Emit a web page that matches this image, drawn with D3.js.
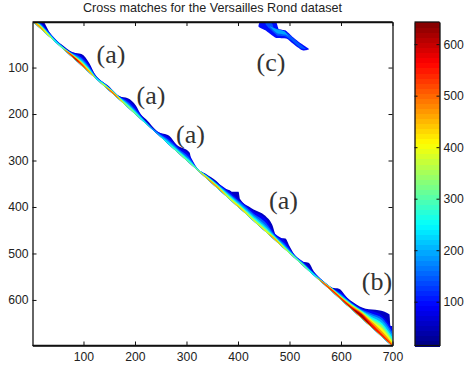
<!DOCTYPE html>
<html>
<head>
<meta charset="utf-8">
<script src="https://cdn.jsdelivr.net/npm/d3@7"></script>
<style>
    html, body { margin: 0; padding: 0; background: #fff; }
    text { font-family: "Liberation Sans", sans-serif; fill: #222; }
    .note { font-family: "Liberation Serif", serif; font-size: 26px; fill: #333; text-anchor: middle; }
    .tick line, .domain { stroke: #111; }
</style>
</head>
<body>
<div id="chart"></div>
<script>
const titleText = 'Cross matches for the Versailles Rond dataset';
const xTicks = [100, 200, 300, 400, 500, 600, 700];
const yTicks = [100, 200, 300, 400, 500, 600];
const barTicks = [100, 200, 300, 400, 500, 600];

// outer edge of the match band: how far above the diagonal it reaches, per column
const edgeCols = [1, 21, 31, 34, 57, 79, 96, 112, 121, 131, 147, 170, 186, 202, 211, 222, 244, 267, 280, 306, 309, 319, 338, 358, 372, 384, 388, 401, 404, 427, 453, 466, 476, 492, 500, 508, 521, 537, 547, 567, 583, 596, 612, 625, 648, 673, 694, 696, 700];
const edgeReach = [2, 20, 13, 10, 7, 12, 25, 20, 9, 6, 9, 8, 20, 20, 11, 10, 6, 20, 15, 23, 12, 4, 9, 14, 13, 20, 21, 34, 21, 24, 34, 29, 10, 24, 16, 8, 5, 17, 9, 6, 9, 20, 17, 19, 29, 51, 63, 40, 44];

// inner levels of the band, same idea, read at these columns
const coreCols = [1, 15, 30, 45, 60, 75, 85, 95, 110, 125, 140, 155, 170, 185, 200, 215, 240, 265, 285, 305, 320, 340, 360, 385, 405, 430, 455, 470, 490, 510, 530, 550, 567, 585, 600, 620, 640, 660, 680, 700];
const reach90 = [2, 13, 11, 7, 6, 9, 16, 21, 18, 6, 7, 8, 8, 16, 16, 8, 5, 15, 13, 18, 5, 8, 12, 17, 18, 21, 28, 15, 18, 7, 9, 7, 6, 9, 17, 16, 22, 36, 46, 38];
const reach150 = [2, 11, 9, 6, 5, 8, 13, 17, 14, 5, 6, 7, 7, 12, 11, 6, 4, 10, 10, 12, 4, 7, 10, 13, 15, 16, 20, 12, 12, 6, 7, 5, 6, 9, 13, 14, 20, 31, 41, 31];
const reach200 = [2, 9, 7, 5, 5, 7, 11, 14, 11, 4, 6, 7, 6, 9, 8, 5, 3, 7, 7, 8, 4, 7, 9, 10, 12, 12, 14, 10, 8, 5, 5, 4, 5, 8, 11, 13, 18, 27, 36, 25];
const reach260 = [2, 8, 6, 4, 4, 7, 9, 11, 9, 3, 5, 6, 6, 7, 6, 4, 0, 4, 5, 6, 4, 6, 8, 8, 9, 9, 10, 8, 6, 4, 4, 3, 5, 8, 9, 12, 17, 23, 30, 19];
const reach330 = [2, 7, 5, 0, 3, 6, 8, 9, 7, 0, 4, 6, 5, 5, 4, 0, 0, 0, 3, 3, 3, 5, 7, 6, 7, 6, 7, 7, 4, 3, 3, 0, 5, 7, 8, 11, 16, 19, 25, 14];
const reach400 = [2, 6, 4, 0, 0, 6, 7, 8, 6, 0, 3, 5, 4, 0, 0, 0, 0, 0, 0, 0, 0, 4, 5, 3, 5, 3, 4, 5, 3, 0, 0, 0, 4, 7, 7, 9, 14, 16, 19, 10];
const reach470 = [0, 5, 0, 0, 0, 5, 6, 7, 4, 0, 0, 4, 3, 0, 0, 0, 0, 0, 0, 0, 0, 3, 4, 0, 3, 0, 0, 4, 0, 0, 0, 0, 4, 6, 6, 8, 13, 13, 12, 6];
const reach550 = [0, 0, 0, 0, 0, 4, 5, 5, 0, 0, 0, 3, 0, 0, 0, 0, 0, 0, 0, 0, 0, 0, 0, 0, 0, 0, 0, 0, 0, 0, 0, 0, 3, 5, 5, 6, 11, 9, 6, 3];
const reach620 = [0, 0, 0, 0, 0, 0, 4, 0, 0, 0, 0, 0, 0, 0, 0, 0, 0, 0, 0, 0, 0, 0, 0, 0, 0, 0, 0, 0, 0, 0, 0, 0, 0, 0, 0, 4, 9, 3, 0, 0];
const levelValues = [90, 150, 200, 260, 330, 400, 470, 550, 620];
const levelReach = [reach90, reach150, reach200, reach260, reach330, reach400, reach470, reach550, reach620];
const levelFloor = [0, 0, 0, 0, 0.3, 0.6, 1, 1.5, 2];
const edgeValue = 55;

// the separate patch (c), outlines as [column, row]
const patchOuter = [[444, 1], [440, 12], [453, 20], [473, 36], [495, 38], [505, 47], [525, 63], [538, 60], [521, 47], [505, 33], [492, 20], [479, 17], [473, 1]];
const patchInner = [[453, 5], [460, 15], [476, 31], [492, 33], [502, 40], [521, 58], [532, 60], [518, 47], [499, 29], [486, 20], [470, 15], [466, 5]];
const patchCore = [[462, 12], [476, 26], [492, 29], [498, 33], [490, 22], [474, 17]];
const patchValues = [100, 145, 195];

const notes = [
    {label: '(a)', x: 111, y: 63},
    {label: '(a)', x: 151, y: 104},
    {label: '(a)', x: 190.5, y: 143},
    {label: '(c)', x: 271, y: 71},
    {label: '(a)', x: 283.5, y: 209},
    {label: '(b)', x: 377, y: 290}
];

const width = 465, height = 366;
const plot = {left: 32.5, top: 22, right: 392.5, bottom: 345.5};
const bar = {left: 414.5, right: 439.5};

const svg = d3.select('#chart').append('svg')
    .attr('width', width)
    .attr('height', height)
    .style('display', 'block');

// Scales
const xScale = d3.scaleLinear().domain([1, 700]).range([plot.left, plot.right]);
const yScale = d3.scaleLinear().domain([2, 698]).range([plot.top, plot.bottom]);
const barScale = d3.scaleLinear().domain([15, 643]).range([plot.bottom, plot.top]);

// matlab jet colormap
const jet = d3.scaleLinear()
    .domain([0, 0.125, 0.375, 0.625, 0.875, 1])
    .range(['#000080', '#0000ff', '#00ffff', '#ffff00', '#ff0000', '#800000'])
    .clamp(true);
const colorOf = v => jet((v - 15) / (643 - 15));

const defs = svg.append('defs');
defs.append('clipPath').attr('id', 'plot-clip')
    .append('rect')
    .attr('x', plot.left).attr('y', plot.top)
    .attr('width', plot.right - plot.left).attr('height', plot.bottom - plot.top);
// the reference image is a bit soft
defs.append('filter').attr('id', 'soft')
    .attr('x', 0).attr('y', 0).attr('width', 1).attr('height', 1)
    .append('feGaussianBlur').attr('stdDeviation', 0.4);

const visG = svg.append('g').attr('clip-path', 'url(#plot-clip)')
    .append('g').attr('filter', 'url(#soft)');

// band from the outside in
const bandArea = d3.area()
    .x(d => xScale(d.col))
    .y0(d => yScale(d.col - d.floor))
    .y1(d => yScale(d.col - Math.max(d.reach, d.floor)))
    .curve(d3.curveMonotoneX);

visG.append('path')
    .attr('d', bandArea(edgeCols.map((col, i) => ({col, floor: 0, reach: edgeReach[i]}))))
    .attr('fill', colorOf(edgeValue));

visG.selectAll('.level')
    .data(levelValues)
    .join('path')
    .attr('class', 'level')
    .attr('fill', d => colorOf(d))
    .attr('d', (d, l) => bandArea(coreCols.map((col, i) => ({col, floor: levelFloor[l], reach: levelReach[l][i]}))));

// patch (c)
const patchLine = d3.line()
    .x(d => xScale(d[0]))
    .y(d => yScale(d[1]))
    .curve(d3.curveCardinalClosed.tension(0.5));

visG.selectAll('.patch')
    .data([patchOuter, patchInner, patchCore])
    .join('path')
    .attr('class', 'patch')
    .attr('d', patchLine)
    .attr('fill', (d, i) => colorOf(patchValues[i]));

// Axes, ticks pointing inwards on all four sides
const drawAxis = (axis, x, y, labels) => {
    const g = svg.append('g')
        .attr('transform', `translate(${x},${y})`)
        .call(axis);
    g.selectAll('text').style('font-size', labels ? '12.2px' : '0px');
    g.selectAll('.domain').attr('stroke-width', 1.3);
    return g;
};

drawAxis(d3.axisBottom(xScale).tickValues(xTicks).tickSize(-4).tickPadding(7).tickSizeOuter(0), 0, plot.bottom, true);
drawAxis(d3.axisTop(xScale).tickValues(xTicks).tickSize(-4).tickFormat('').tickSizeOuter(0), 0, plot.top, false);
drawAxis(d3.axisLeft(yScale).tickValues(yTicks).tickSize(-4).tickPadding(4).tickSizeOuter(0), plot.left, 0, true);
drawAxis(d3.axisRight(yScale).tickValues(yTicks).tickSize(-4).tickFormat('').tickSizeOuter(0), plot.right, 0, false);

// Title
svg.append('text')
    .attr('x', 212.5)
    .attr('y', 12)
    .attr('text-anchor', 'middle')
    .style('font-size', '12.6px')
    .text(titleText);

// Annotations
svg.selectAll('.note')
    .data(notes)
    .join('text')
    .attr('class', 'note')
    .attr('x', d => d.x)
    .attr('y', d => d.y)
    .text(d => d.label);

// Colorbar
const barSteps = d3.range(64);
const stepValue = i => 15 + (i + 0.5) * (643 - 15) / 64;
svg.append('g').attr('shape-rendering', 'crispEdges').selectAll('rect')
    .data(barSteps)
    .join('rect')
    .attr('x', bar.left)
    .attr('width', bar.right - bar.left)
    .attr('y', i => barScale(15 + (i + 1) * (643 - 15) / 64))
    .attr('height', (plot.bottom - plot.top) / 64 + 1)
    .attr('fill', i => colorOf(stepValue(i)));

drawAxis(d3.axisRight(barScale).tickValues(barTicks).tickSize(-3).tickPadding(4).tickSizeOuter(0), bar.right, 0, true);
drawAxis(d3.axisLeft(barScale).tickValues(barTicks).tickSize(-3).tickFormat('').tickSizeOuter(0), bar.left, 0, false);

// closing lines of the two boxes
[[plot.left, plot.right], [bar.left, bar.right]].forEach(([x1, x2]) => {
    svg.append('g').selectAll('line')
        .data([plot.top, plot.bottom])
        .join('line')
        .attr('x1', x1).attr('x2', x2)
        .attr('y1', d => d).attr('y2', d => d)
        .attr('stroke', '#111').attr('stroke-width', 1.3);
});
</script>
</body>
</html>
